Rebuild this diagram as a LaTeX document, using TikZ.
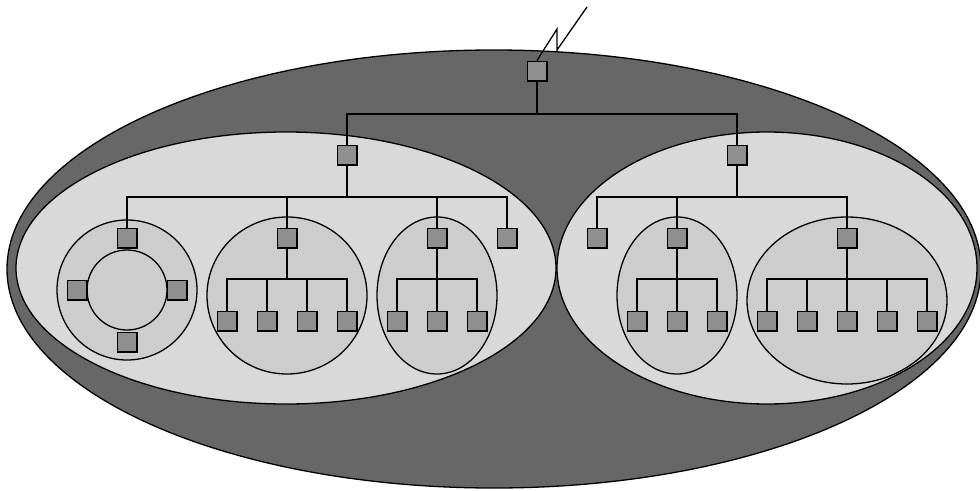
\documentclass[tikz,border=0pt]{standalone}
\definecolor{outerg}{HTML}{676767}
\definecolor{lightg}{HTML}{D9D9D9}
\definecolor{groupg}{HTML}{CDCDCD}
\definecolor{boxg}{HTML}{8F8F8F}
\begin{document}
\begin{tikzpicture}[x=1pt,y=-1pt,line join=miter,
  box/.style={draw=black,fill=boxg,line width=1.5pt,minimum size=19.5pt,inner sep=0pt},
  wire/.style={line width=1.5pt},
  rim/.style={draw=black,line width=1.3pt}]
\useasboundingbox (0,0) rectangle (980,490);
% containers
\draw[rim,fill=outerg] (494,269) ellipse [x radius=487,y radius=219];
\draw[rim,fill=lightg] (286,268) ellipse [x radius=270,y radius=136];
\draw[rim,fill=lightg] (767,268) ellipse [x radius=210,y radius=136];
\draw[rim,fill=groupg] (127,290) circle [radius=70];
\draw[rim,fill=groupg] (127,290) circle [radius=40];
\draw[rim,fill=groupg] (287,295.5) ellipse [x radius=80,y radius=78.5];
\draw[rim,fill=groupg] (437,295.5) ellipse [x radius=60,y radius=78.5];
\draw[rim,fill=groupg] (677,295.5) ellipse [x radius=60,y radius=78.5];
\draw[rim,fill=groupg] (847,300.5) ellipse [x radius=100,y radius=83.5];
% boxes
\node[box] (top) at (537,71) {};
\node[box] (L) at (347,155) {};
\node[box] (R) at (737,155) {};
\node[box] (a1) at (127,238) {};
\node[box] (a2) at (287,238) {};
\node[box] (a3) at (437,238) {};
\node[box] (a4) at (507,238) {};
\node[box] (b1) at (597,238) {};
\node[box] (b2) at (677,238) {};
\node[box] (b3) at (847,238) {};
\node[box] (r1) at (77,290) {};
\node[box] (r2) at (177,290) {};
\node[box] (r3) at (127,342) {};
\node[box] (p1) at (227,321) {};
\node[box] (p2) at (267,321) {};
\node[box] (p3) at (307,321) {};
\node[box] (p4) at (347,321) {};
\node[box] (q1) at (397,321) {};
\node[box] (q2) at (437,321) {};
\node[box] (q3) at (477,321) {};
\node[box] (s1) at (637,321) {};
\node[box] (s2) at (677,321) {};
\node[box] (s3) at (717,321) {};
\node[box] (t1) at (767,321) {};
\node[box] (t2) at (807,321) {};
\node[box] (t3) at (847,321) {};
\node[box] (t4) at (887,321) {};
\node[box] (t5) at (927,321) {};
% junctions
\coordinate (j0) at (537,114);
\coordinate (jL) at (347,197);
\coordinate (jR) at (737,197);
\coordinate (jp) at (287,280);
\coordinate (jq) at (437,279);
\coordinate (js) at (677,279);
\coordinate (jt) at (847,279);
% bolt
\coordinate (z1) at (557,29);
\coordinate (z2) at (557,50);
\coordinate (z3) at (587,7);
\draw[line width=1.3pt] (top.north) -- (z1) -- (z2) -- (z3);
% wires
\draw[wire] (top.south) -- (j0);
\draw[wire] (L.north) -- (L.north |- j0) -- (R.north |- j0) -- (R.north);
\draw[wire] (L.south) -- (jL);
\draw[wire] (a1.north) -- (a1.north |- jL) -- (a4.north |- jL) -- (a4.north);
\draw[wire] (a2.north) -- (a2.north |- jL);
\draw[wire] (a3.north) -- (a3.north |- jL);
\draw[wire] (R.south) -- (jR);
\draw[wire] (b1.north) -- (b1.north |- jR) -- (b3.north |- jR) -- (b3.north);
\draw[wire] (b2.north) -- (b2.north |- jR);
\draw[wire] (a2.south) -- (jp);
\draw[wire] (p1.north) -- (p1.north |- jq) -- (p4.north |- jq) -- (p4.north);
\draw[wire] (p2.north) -- (p2.north |- jq);
\draw[wire] (p3.north) -- (p3.north |- jq);
\draw[wire] (a3.south) -- (q2.north);
\draw[wire] (q1.north) -- (q1.north |- jq) -- (q3.north |- jq) -- (q3.north);
\draw[wire] (b2.south) -- (s2.north);
\draw[wire] (s1.north) -- (s1.north |- js) -- (s3.north |- js) -- (s3.north);
\draw[wire] (b3.south) -- (t3.north);
\draw[wire] (t1.north) -- (t1.north |- jt) -- (t5.north |- jt) -- (t5.north);
\draw[wire] (t2.north) -- (t2.north |- jt);
\draw[wire] (t4.north) -- (t4.north |- jt);
\end{tikzpicture}
\end{document}
